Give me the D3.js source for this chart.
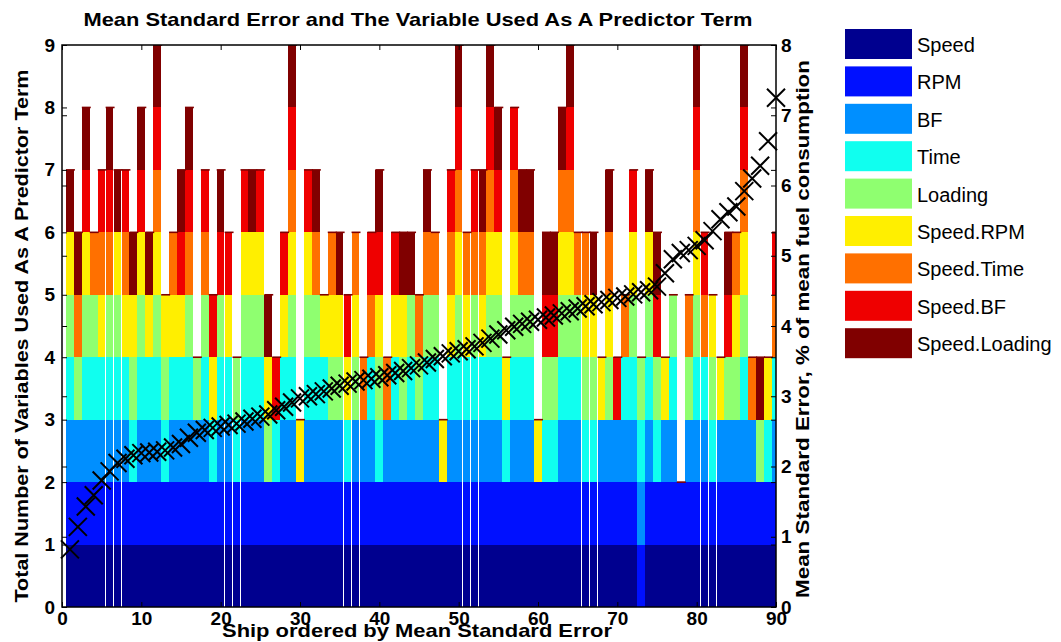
<!DOCTYPE html>
<html>
<head>
<meta charset="utf-8">
<script src="https://cdn.jsdelivr.net/npm/d3@7"></script>
<style>
  body { margin: 0; background: #fff; }
  text { font-family: "Liberation Sans", Arial, Helvetica, sans-serif; }
</style>
</head>
<body>
<svg id="chart" width="1061" height="642"></svg>
<script>
// --------------------------------------------
// data
// --------------------------------------------
const terms = ['Speed', 'RPM', 'BF', 'Time', 'Loading',
               'Speed.RPM', 'Speed.Time', 'Speed.BF', 'Speed.Loading'];

const termColors = ['#00008f', '#0010ff', '#008fff', '#10ffef', '#8fff70',
                    '#ffef00', '#ff7000', '#ef0000', '#800000'];

// one row per ship, one flag per term (same order as `terms`)
const shipTerms = [
  '111111001', '111010101', '111111011', '111110100', '111101110',
  '111110111', '111111001', '111101110', '110111001', '111111011',
  '111101001', '111111111', '110111000', '111101100', '111101011',
  '111110111', '111010000', '111110110', '110101010', '111110011',
  '111101010', '110110000', '111111010', '111111001', '111111010',
  '110011001', '110100010', '111101010', '111111111', '110001000',
  '111111010', '111110101', '111101000', '111011100', '111011001',
  '110101010', '111011100', '111000100', '111100110', '110111011',
  '111000100', '111101010', '111011001', '111110001', '111010100',
  '111110101', '111110100', '110001000', '111101110', '111111111',
  '111101100', '111110110', '111101101', '111111111', '111111011',
  '110101000', '111111110', '111110101', '111110101', '110001000',
  '110110011', '110110011', '111111101', '111111111', '111110100',
  '110111100', '110111001', '111001000', '111011101', '111000010',
  '111100100', '111111010', '011110000', '111111001', '110110011',
  '111001000', '111110000', '110000000', '111010100', '111111111',
  '111100110', '110111000', '111001000', '111010011', '111011100',
  '111111111', '111000100', '110010001', '110101000', '111100110'
];

// mean standard error, % of mean fuel consumption (right axis)
const meanStdError = [
  0.82, 1.14, 1.43, 1.59, 1.80, 1.93, 2.05, 2.11, 2.16, 2.19,
  2.20, 2.21, 2.23, 2.27, 2.32, 2.41, 2.48, 2.52, 2.55, 2.57,
  2.59, 2.61, 2.64, 2.68, 2.71, 2.74, 2.80, 2.85, 2.91, 2.97,
  3.00, 3.03, 3.07, 3.11, 3.15, 3.18, 3.21, 3.23, 3.25, 3.27,
  3.30, 3.33, 3.36, 3.40, 3.44, 3.48, 3.53, 3.57, 3.61, 3.64,
  3.67, 3.71, 3.76, 3.82, 3.88, 3.94, 3.99, 4.03, 4.06, 4.09,
  4.12, 4.15, 4.18, 4.21, 4.25, 4.28, 4.31, 4.34, 4.37, 4.40,
  4.42, 4.45, 4.48, 4.51, 4.56, 4.75, 4.95, 5.04, 5.08, 5.14,
  5.22, 5.35, 5.52, 5.62, 5.70, 5.92, 6.10, 6.28, 6.63, 7.25
];

const leftTicks = d3.range(0, 10);
const rightTicks = d3.range(0, 9);
const xTicks = d3.range(0, 91, 10);

const titleText = 'Mean Standard Error and The Variable Used As A Predictor Term';
const xLabel = 'Ship ordered by Mean Standard Error';
const yLeftLabel = 'Total Number of Variables Used As A Predictor Term';
const yRightLabel = 'Mean Standard Error, % of mean fuel consumption';

// --------------------------------------------
// layout
// --------------------------------------------
const plot = { left: 62, right: 776, top: 45, bottom: 607 };

const svg = d3.select('#chart');

const x = d3.scaleLinear().domain([0, 90]).range([plot.left, plot.right]);
const yL = d3.scaleLinear().domain([0, 9]).range([plot.bottom, plot.top]);
const yR = d3.scaleLinear().domain([0, 8]).range([plot.bottom, plot.top]);
const color = d3.scaleOrdinal().domain(terms).range(termColors);

// rows for the stack
const rows = shipTerms.map((flags, i) => {
    const row = { ship: i + 1 };
    terms.forEach((t, k) => { row[t] = +flags[k]; });
    return row;
});
const series = d3.stack().keys(terms)(rows);

svg.append('defs').append('clipPath')
    .attr('id', 'plot-clip')
    .append('rect')
    .attr('x', plot.left).attr('y', plot.top)
    .attr('width', plot.right - plot.left)
    .attr('height', plot.bottom - plot.top);

const barW = x(1) - x(0);

// stacked bars
const bars = svg.append('g').attr('clip-path', 'url(#plot-clip)');

bars.selectAll('g.series')
    .data(series)
    .enter().append('g')
    .attr('class', 'series')
    .attr('fill', d => color(d.key))
    .selectAll('rect')
    .data(d => d.filter(s => s[1] > s[0]))
    .enter().append('rect')
    .attr('shape-rendering', 'crispEdges')
    .attr('x', d => x(d.data.ship) - barW / 2)
    .attr('width', barW - 0.15)
    .attr('y', d => yL(d[1]))
    .attr('height', d => yL(d[0]) - yL(d[1]));

// thin cap left by the zero-height segments on top of each bar
const totals = rows.map(r => terms.reduce((s, t) => s + r[t], 0));
bars.selectAll('rect.cap')
    .data(rows)
    .enter().append('rect')
    .attr('class', 'cap')
    .attr('x', d => x(d.ship) - barW / 2)
    .attr('width', barW + 1)
    .attr('y', (d, i) => yL(totals[i]) - 0.8)
    .attr('height', 1.6)
    .attr('fill', termColors[termColors.length - 1]);

// --------------------------------------------
// axes (ticks point inward, both scales on both sides)
// --------------------------------------------
const axisFont = g => g.selectAll('text')
    .style('font-size', '19px')
    .style('font-weight', 'bold')
    .attr('fill', '#000');

const noDomain = g => g.select('.domain').remove();

svg.append('g')
    .attr('transform', `translate(${plot.left},0)`)
    .call(d3.axisLeft(yL).tickValues(leftTicks).tickSize(-5).tickPadding(7))
    .call(noDomain)
    .call(axisFont);

svg.append('g')
    .attr('transform', `translate(${plot.left},0)`)
    .call(d3.axisLeft(yR).tickValues(rightTicks).tickSize(-5).tickFormat(''))
    .call(noDomain);

svg.append('g')
    .attr('transform', `translate(${plot.right},0)`)
    .call(d3.axisRight(yR).tickValues(rightTicks).tickSize(-5).tickPadding(5))
    .call(noDomain)
    .call(axisFont);

svg.append('g')
    .attr('transform', `translate(${plot.right},0)`)
    .call(d3.axisRight(yL).tickValues(leftTicks).tickSize(-5).tickFormat(''))
    .call(noDomain);

svg.append('g')
    .attr('transform', `translate(0,${plot.bottom})`)
    .call(d3.axisBottom(x).tickValues(xTicks).tickSize(-5).tickPadding(5))
    .call(noDomain)
    .call(axisFont);

svg.append('g')
    .attr('transform', `translate(0,${plot.top})`)
    .call(d3.axisTop(x).tickValues(xTicks).tickSize(-5).tickFormat(''))
    .call(noDomain);

// box around the plot
svg.append('rect')
    .attr('x', plot.left).attr('y', plot.top)
    .attr('width', plot.right - plot.left)
    .attr('height', plot.bottom - plot.top)
    .attr('fill', 'none')
    .attr('stroke', '#000')
    .attr('stroke-width', 1.5);

// --------------------------------------------
// mean standard error markers
// --------------------------------------------
const xMark = s => `M${-s},${-s}L${s},${s}M${-s},${s}L${s},${-s}`;

svg.append('g')
    .selectAll('path')
    .data(meanStdError)
    .enter().append('path')
    .attr('transform', (d, i) => `translate(${x(i + 1)},${yR(d)})`)
    .attr('d', xMark(9))
    .attr('fill', 'none')
    .attr('stroke', '#000')
    .attr('stroke-width', 2);

// --------------------------------------------
// titles (stretched to the widths seen in the reference)
// --------------------------------------------
const label = (sel, len) => sel
    .attr('text-anchor', 'middle')
    .attr('textLength', len)
    .attr('lengthAdjust', 'spacingAndGlyphs')
    .style('font-size', '19px')
    .style('font-weight', 'bold');

svg.append('text')
    .attr('x', 418).attr('y', 26)
    .call(label, 669)
    .text(titleText);

svg.append('text')
    .attr('x', 417).attr('y', 637)
    .call(label, 390)
    .text(xLabel);

svg.append('text')
    .attr('transform', 'translate(28,336) rotate(-90)')
    .call(label, 533)
    .text(yLeftLabel);

svg.append('text')
    .attr('transform', 'translate(809,329) rotate(-90)')
    .call(label, 538)
    .text(yRightLabel);

// --------------------------------------------
// legend
// --------------------------------------------
const legend = svg.append('g')
    .selectAll('g')
    .data(terms)
    .enter().append('g')
    .attr('transform', (d, i) => `translate(845,${29 + i * 37.4})`);

legend.append('rect')
    .attr('width', 67).attr('height', 30)
    .attr('fill', d => color(d));

legend.append('text')
    .attr('x', 72).attr('y', 23)
    .style('font-size', '20px')
    .text(d => d);
</script>
</body>
</html>
